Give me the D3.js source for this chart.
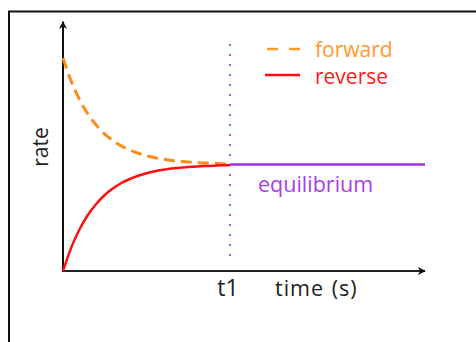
<!DOCTYPE html>
<html><head><meta charset="utf-8">
<script src="https://cdn.jsdelivr.net/npm/d3@7"></script>
<style>html,body{margin:0;padding:0;background:#fff;}svg{display:block;}</style>
</head><body>
<script>
// Data
const times = [0,0.25,0.5,0.75,1,1.25,1.5,1.75,2,2.25,2.5,2.75,3,3.25,3.5,3.75,4,4.25,4.5,4.75,5];
const forward = [1.000,.889,.803,.736,.684,.643,.612,.587,.568,.553,.541,.532,.525,.519,.515,.512,.509,.507,.506,.504,.503];
const reverse = [0,.111,.197,.264,.316,.357,.388,.413,.432,.447,.459,.468,.475,.481,.485,.488,.491,.493,.494,.496,.497];
const t1 = 5;
const tEnd = 10.84;
const equilibriumRate = 0.5;
const yTop = 1.17;
const legendLabels = ["forward","reverse"];
const axisLabels = {x:"time (s)", y:"rate", t1:"t1", eq:"equilibrium"};

const W = 476, H = 342;
const svg = d3.select("body").append("svg").attr("width",W).attr("height",H);
const font = "'Open Sans', sans-serif";

const x = d3.scaleLinear().domain([0,tEnd]).range([63,425]);
const y = d3.scaleLinear().domain([0,1]).range([271,58]);

// frame (cropped)
svg.append("path").attr("d","M9,342 V11.5 H476").attr("fill","none").attr("stroke","#111").attr("stroke-width",2);

const defs = svg.append("defs");
defs.append("marker").attr("id","arr").attr("viewBox","0 0 10 10").attr("refX",9).attr("refY",5)
  .attr("markerWidth",4).attr("markerHeight",4).attr("orient","auto")
  .append("path").attr("d","M0,0 L10,5 L0,10 L3,5 Z").attr("fill","#111");

// axes
svg.append("line").attr("x1",x(0)).attr("y1",y(0)+1).attr("x2",x(0)).attr("y2",y(yTop))
  .attr("stroke","#111").attr("stroke-width",2).attr("marker-end","url(#arr)");
svg.append("line").attr("x1",x(0)-1).attr("y1",y(0)).attr("x2",x(tEnd)).attr("y2",y(0))
  .attr("stroke","#222").attr("stroke-width",2).attr("marker-end","url(#arr)");

// dotted t1 line
svg.append("line").attr("x1",x(t1)).attr("x2",x(t1)).attr("y1",y(1.0)-14).attr("y2",y(0)-8)
  .attr("stroke","#b44cf0").attr("stroke-width",2).attr("stroke-dasharray","2,8");

const line = d3.line().x((d,i)=>x(times[i])).y(d=>y(d)).curve(d3.curveMonotoneX);

svg.append("path").datum(forward).attr("d",line).attr("fill","none")
  .attr("stroke","#ff8c1a").attr("stroke-width",3).attr("stroke-dasharray","11,6");
svg.append("path").datum(reverse).attr("d",line).attr("fill","none")
  .attr("stroke","#ff1010").attr("stroke-width",2.5);

// equilibrium line
svg.append("line").attr("x1",x(t1)).attr("x2",x(tEnd)).attr("y1",y(equilibriumRate)).attr("y2",y(equilibriumRate))
  .attr("stroke","#a431e6").attr("stroke-width",2.5);

// legend
svg.append("line").attr("x1",267).attr("x2",300).attr("y1",49).attr("y2",49)
  .attr("stroke","#ff9a2a").attr("stroke-width",2.5).attr("stroke-dasharray","11,11");
svg.append("line").attr("x1",265).attr("x2",300).attr("y1",75).attr("y2",75)
  .attr("stroke","#ff1010").attr("stroke-width",2.5);
svg.append("text").attr("x",315).attr("y",57).text(legendLabels[0])
  .attr("font-family",font).attr("font-size",21).attr("fill","#ff9a2a");
svg.append("text").attr("x",315).attr("y",84).text(legendLabels[1])
  .attr("font-family",font).attr("font-size",21).attr("fill","#ff1a1a");

// labels
svg.append("text").attr("x",258).attr("y",192).text(axisLabels.eq)
  .attr("font-family",font).attr("font-size",21.5).attr("fill","#a83ee6");
svg.append("text").attr("x",x(t1)-2).attr("y",296).attr("text-anchor","middle").text(axisLabels.t1)
  .attr("font-family",font).attr("font-size",23).attr("fill","#222");
svg.append("text").attr("x",275).attr("y",296).text(axisLabels.x)
  .attr("font-family",font).attr("font-size",21.5).attr("letter-spacing",1).attr("word-spacing",1).attr("fill","#222");
svg.append("text").attr("transform","translate(48,147) rotate(-90)").attr("text-anchor","middle").text(axisLabels.y)
  .attr("font-family",font).attr("font-size",21).attr("fill","#222");
</script>
</body></html>
